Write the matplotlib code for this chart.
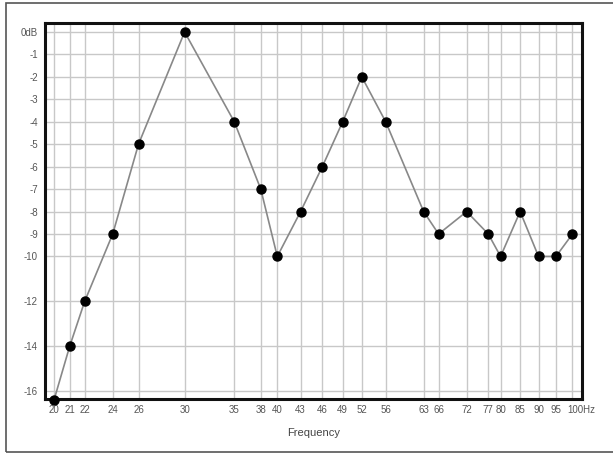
import matplotlib
matplotlib.use("Agg")
import matplotlib.pyplot as plt
import matplotlib.transforms as mtransforms
from matplotlib.patches import Rectangle
from matplotlib.ticker import FixedLocator, NullLocator, NullFormatter

freqs = [20, 21, 22, 24, 26, 30, 35, 38, 40, 43, 46, 49, 52, 56, 63, 66, 72, 77, 80, 85, 90, 95, 100]
levels = [-16.4, -14, -12, -9, -5, 0, -4, -7, -10, -8, -6, -4, -2, -4, -8, -9, -8, -9, -10, -8, -10, -10, -9]
x_tick_labels = ["20", "21", "22", "24", "26", "30", "35", "38", "40", "43", "46", "49", "52", "56",
                 "63", "66", "72", "77", "80", "85", "90", "95", "100Hz"]
y_ticks = [0, -1, -2, -3, -4, -5, -6, -7, -8, -9, -10, -12, -14, -16]
y_tick_labels = ["0dB", "-1", "-2", "-3", "-4", "-5", "-6", "-7", "-8", "-9", "-10", "-12", "-14", "-16"]

plt.rcParams['font.family'] = ['Liberation Sans', 'DejaVu Sans']

fig = plt.figure(figsize=(6.13, 4.53), dpi=100)
fig.patch.set_facecolor("white")

# outer frame
fig.patches.append(Rectangle((6 / 613, 1 / 453), 1.2, 449 / 453, transform=fig.transFigure,
                             fill=False, edgecolor="#555555", linewidth=1.2))

ax = fig.add_axes([45 / 613, 54 / 453, 537 / 613, 376 / 453])
ax.set_xscale("log")
ax.set_xlim(19.45, 103)
ax.set_ylim(-16.35, 0.4)

ax.xaxis.set_major_locator(FixedLocator(freqs))
ax.xaxis.set_minor_locator(NullLocator())
ax.xaxis.set_minor_formatter(NullFormatter())
ax.set_xticks(freqs)
ax.set_xticklabels(x_tick_labels)
ax.set_yticks(y_ticks)
ax.set_yticklabels(y_tick_labels)

ax.grid(True, color="#c8c8c8", linewidth=1.0)
ax.set_axisbelow(True)

ax.tick_params(axis="both", length=0, labelsize=7, colors="#555555", pad=5)
ax.tick_params(axis="x", pad=4)
for s in ax.spines.values():
    s.set_linewidth(2.2)
    s.set_color("#111111")

# last label ("100Hz") starts near its tick
last = ax.get_xticklabels()[-1]
last.set_horizontalalignment("left")
last.set_transform(last.get_transform() + mtransforms.ScaledTranslation(-5 / 100, 0, fig.dpi_scale_trans))

ax.plot(freqs, levels, color="#888888", linewidth=1.2, zorder=3, clip_on=False)
ax.plot(freqs, levels, linestyle="none", marker="o", markersize=6.5, color="black", zorder=4, clip_on=False)

ax.set_xlabel("Frequency", fontsize=8, color="#444444", labelpad=10)

fig.savefig("out.png", dpi=100, facecolor="white")
